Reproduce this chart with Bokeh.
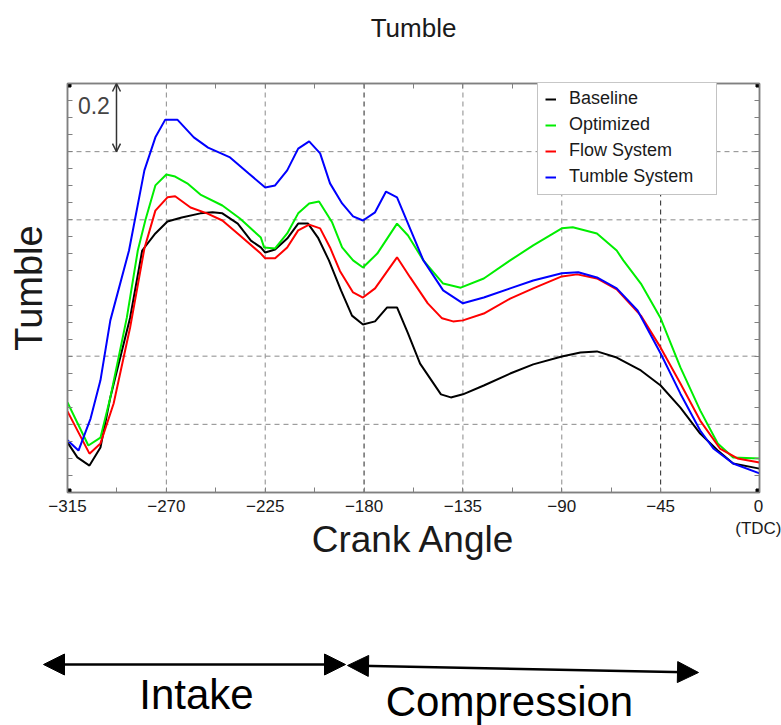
from bokeh.plotting import figure
from bokeh.models import (Range1d, LinearAxis, FixedTicker, Span, Label, Arrow,
                          OpenHead, NormalHead, Legend, LegendItem, CustomJSTickFormatter)
from bokeh.layouts import column
from bokeh.embed import file_html
from bokeh.resources import INLINE

# ---------------- data ----------------
BASELINE_DEG = [-315, -310.5, -305, -300, -295.5, -286.5, -281, -275, -269.5, -263, -254.5, -249,
                -244.5, -237.5, -231.5, -227, -225, -220.5, -215, -210, -205.5, -201, -196, -190.5,
                -185.5, -180.5, -175, -169.5, -165, -160, -154.5, -145, -140.5, -135, -125.5, -113.5,
                -103, -90, -81.5, -74, -65, -54, -45, -36, -27, -19, -12, 0]
BASELINE = [0.147, 0.103, 0.079, 0.132, 0.279, 0.513, 0.710, 0.760, 0.795, 0.807, 0.819, 0.822,
            0.819, 0.789, 0.739, 0.719, 0.704, 0.713, 0.745, 0.789, 0.789, 0.748, 0.681, 0.593,
            0.519, 0.493, 0.502, 0.543, 0.543, 0.467, 0.378, 0.288, 0.279, 0.288, 0.314, 0.349,
            0.376, 0.399, 0.411, 0.414, 0.396, 0.358, 0.314, 0.249, 0.173, 0.123, 0.085, 0.070]

OPT_DEG = [-315, -305.5, -300, -295.5, -288, -283, -279.5, -275, -270, -266, -260.5, -254.5,
           -244.5, -236.5, -227, -225.5, -220.5, -215, -210, -205, -200.5, -194.5, -190, -185,
           -180.5, -174, -165, -160, -153, -144, -136, -125.5, -113.5, -103, -90, -85, -74, -65,
           -62, -54, -45, -36, -27, -19, -12, 0]
OPTIMIZED = [0.264, 0.138, 0.161, 0.279, 0.513, 0.710, 0.800, 0.901, 0.933, 0.927, 0.907, 0.874,
             0.842, 0.804, 0.748, 0.719, 0.716, 0.760, 0.819, 0.848, 0.854, 0.792, 0.719, 0.681,
             0.660, 0.701, 0.789, 0.754, 0.681, 0.613, 0.601, 0.628, 0.681, 0.725, 0.775, 0.778,
             0.760, 0.710, 0.681, 0.613, 0.511, 0.367, 0.241, 0.144, 0.103, 0.100]

FLOW_DEG = [-315, -305, -300, -294, -286.5, -280, -275, -269.5, -266, -259, -251.5, -244.5,
            -236.5, -227, -225, -220.5, -215, -210, -205, -200, -195.5, -191, -185, -180.5,
            -175, -165, -159, -151, -144.5, -139.5, -135, -125.5, -113.5, -103, -90, -83, -74,
            -65, -54, -45, -36, -27, -18, -10, 0]
FLOW = [0.238, 0.114, 0.144, 0.261, 0.484, 0.716, 0.827, 0.866, 0.869, 0.836, 0.819, 0.798,
        0.754, 0.701, 0.687, 0.687, 0.719, 0.769, 0.786, 0.775, 0.719, 0.650, 0.587, 0.572,
        0.599, 0.690, 0.631, 0.555, 0.511, 0.502, 0.505, 0.525, 0.569, 0.599, 0.634, 0.640, 0.628,
        0.596, 0.519, 0.425, 0.320, 0.211, 0.129, 0.100, 0.088]

TUMBLE_DEG = [-315, -310, -304.5, -300, -295.5, -287, -280, -275, -270.5, -265, -257.5, -251,
              -241, -232.5, -225, -220.5, -215, -210, -205, -200, -195.5, -190, -185, -180.5,
              -175, -170, -165, -160, -153, -144, -135, -125.5, -113.5, -103, -90, -82.5, -74,
              -65, -55.5, -45, -36, -27, -21, -12, 0]
TUMBLE = [0.153, 0.123, 0.217, 0.329, 0.505, 0.710, 0.945, 1.042, 1.094, 1.094, 1.042, 1.012,
          0.983, 0.936, 0.895, 0.901, 0.945, 1.009, 1.030, 0.995, 0.907, 0.848, 0.810, 0.798,
          0.822, 0.883, 0.866, 0.789, 0.681, 0.593, 0.555, 0.572, 0.599, 0.622, 0.643, 0.646,
          0.631, 0.599, 0.534, 0.408, 0.290, 0.182, 0.129, 0.085, 0.056]

SERIES_NAMES = ["Baseline", "Optimized", "Flow System", "Tumble System"]
SERIES_COLORS = ["#000000", "#00ee00", "#ff0000", "#0000ff"]

X_MIN, X_MAX = -315, 0
Y_MIN, Y_MAX = 0.0, 1.2
X_TICKS = [-315, -270, -225, -180, -135, -90, -45, 0]
X_MINOR = [-292.5, -247.5, -202.5, -157.5, -112.5, -67.5, -22.5]
Y_TICKS = [0.05, 0.1, 0.15, 0.2, 0.25, 0.3, 0.35, 0.4, 0.45, 0.5, 0.55,
           0.65, 0.7, 0.75, 0.8, 0.85, 0.9, 0.95, 1.0, 1.05, 1.1, 1.15]
Y_GRID = [0.2, 0.4, 0.8, 1.0]
X_GRID_LIGHT = [-270, -225, -135, -90]
X_GRID_DARK = [-180, -45]
SCALE_BAR = 0.2
SCALE_BAR_X = -292.7

TITLE = "Tumble"
PHASES = ["Intake", "Compression"]
PHASE_ARROWS = [(43, 664, 345, 664), (347, 665, 698, 672)]
PHASE_TEXT_POS = [(196, 694), (509, 701)]

TXT = "#1a1a1a"
FONT = "Liberation Sans"
AXC = "#808080"

HDR_H, MAIN_H, FOOT_H = 60, 540, 125

# ---------------- header (title) ----------------
hdr = figure(width=781, height=HDR_H, x_range=Range1d(0, 781), y_range=Range1d(HDR_H, 0),
             output_backend="svg", toolbar_location=None, min_border=0,
             min_border_left=0, min_border_right=0, min_border_top=0, min_border_bottom=0,
             x_axis_location=None, y_axis_location=None)
hdr.frame_align = False
hdr.xgrid.visible = False
hdr.ygrid.visible = False
hdr.outline_line_color = None
hdr.add_layout(Label(x=413, y=27, text=TITLE, text_align="center", text_baseline="middle",
                     text_font=FONT, text_font_size="26px", text_color=TXT))

# ---------------- main figure ----------------
p = figure(width=781, height=MAIN_H, x_range=Range1d(X_MIN, X_MAX), y_range=Range1d(Y_MIN, Y_MAX),
           output_backend="svg", toolbar_location=None,
           min_border_left=67, min_border_right=22, min_border_top=83 - HDR_H,
           min_border_bottom=108)
p.frame_align = False
p.xgrid.visible = False
p.ygrid.visible = False
p.outline_line_color = AXC
p.outline_line_width = 1.5

xt = FixedTicker(ticks=X_TICKS, minor_ticks=X_MINOR)
yt = FixedTicker(ticks=Y_TICKS, minor_ticks=[])
blank = CustomJSTickFormatter(code="return ''")
xfmt = CustomJSTickFormatter(
    code="return tick == 0 ? '0\\n(TDC)' : '\u2212' + Math.abs(tick)")


def style_axis(ax):
    ax.axis_line_color = AXC
    ax.axis_line_width = 1.5
    ax.major_tick_line_color = AXC
    ax.minor_tick_line_color = AXC
    ax.major_tick_in = 5
    ax.major_tick_out = 0
    ax.minor_tick_in = 5
    ax.minor_tick_out = 0


xa = p.xaxis[0]
xa.ticker = xt
xa.formatter = xfmt
style_axis(xa)
xa.major_label_text_font = FONT
xa.major_label_text_font_size = "17px"
xa.major_label_text_color = TXT
xa.major_label_standoff = 4
xa.axis_label = "Crank Angle"
xa.axis_label_text_font = FONT
xa.axis_label_text_font_size = "37px"
xa.axis_label_text_font_style = "normal"
xa.axis_label_text_color = TXT
xa.axis_label_standoff = -22

ya = p.yaxis[0]
ya.ticker = yt
ya.formatter = blank
style_axis(ya)
ya.major_label_text_font_size = "0px"
ya.major_label_standoff = 0
ya.axis_label = "Tumble"
ya.axis_label_text_font = FONT
ya.axis_label_text_font_size = "38px"
ya.axis_label_text_font_style = "normal"
ya.axis_label_text_color = TXT
ya.axis_label_standoff = 18

ra = LinearAxis(ticker=yt, formatter=blank, major_label_text_font_size="0px", major_label_standoff=0)
style_axis(ra)
p.add_layout(ra, "right")
ta = LinearAxis(ticker=xt, formatter=blank, major_label_text_font_size="0px", major_label_standoff=0)
style_axis(ta)
p.add_layout(ta, "above")

for v in Y_GRID:
    p.add_layout(Span(location=v, dimension="width", line_color="#8a8a8a", line_dash="5 4",
                      line_width=1, level="underlay"))
for v in X_GRID_LIGHT:
    p.add_layout(Span(location=v, dimension="height", line_color="#8a8a8a", line_dash="5 4",
                      line_width=1, level="underlay"))
for v in X_GRID_DARK:
    p.add_layout(Span(location=v, dimension="height", line_color="#222222", line_dash="5 4",
                      line_width=1, level="underlay"))

renderers = []
for xs, ys, c in zip([BASELINE_DEG, OPT_DEG, FLOW_DEG, TUMBLE_DEG],
                     [BASELINE, OPTIMIZED, FLOW, TUMBLE], SERIES_COLORS):
    renderers.append(p.line(xs, ys, line_color=c, line_width=2))

legend = Legend(items=[LegendItem(label=n, renderers=[r]) for n, r in zip(SERIES_NAMES, renderers)],
                location=(470, 297), border_line_color="#888888", border_line_width=1,
                background_fill_color="white", background_fill_alpha=1.0,
                label_text_font=FONT, label_text_font_size="18px", label_text_color=TXT,
                glyph_width=11, glyph_height=20, label_height=20, label_width=140,
                spacing=5, padding=7, label_standoff=13, margin=0)
p.add_layout(legend)

# corner markers
p.scatter([X_MIN, X_MAX, X_MIN, X_MAX], [Y_MIN, Y_MIN, Y_MAX, Y_MAX], marker="square",
          size=7, color="black")

# 0.2 scale bar
p.add_layout(Arrow(x_start=SCALE_BAR_X, y_start=Y_MAX, x_end=SCALE_BAR_X, y_end=Y_MAX - SCALE_BAR,
                   start=OpenHead(size=8, line_width=1.5, line_color="#333333"),
                   end=OpenHead(size=8, line_width=1.5, line_color="#333333"),
                   line_width=1.5, line_color="#333333"))
p.add_layout(Label(x=-303, y=Y_MAX - 0.065, text=str(SCALE_BAR), text_align="center",
                   text_baseline="middle", text_font=FONT, text_font_size="23px",
                   text_color="#444444"))

# ---------------- phase arrows ----------------
q = figure(width=781, height=FOOT_H, x_range=Range1d(0, 781), y_range=Range1d(725, 725 - FOOT_H),
           output_backend="svg", toolbar_location=None, min_border=0,
           min_border_left=0, min_border_right=0, min_border_top=0, min_border_bottom=0,
           x_axis_location=None, y_axis_location=None)
q.frame_align = False
q.xgrid.visible = False
q.ygrid.visible = False
q.outline_line_color = None
for (x0, y0, x1, y1), name, (tx, ty) in zip(PHASE_ARROWS, PHASES, PHASE_TEXT_POS):
    q.add_layout(Arrow(x_start=x0, y_start=y0, x_end=x1, y_end=y1,
                       start=NormalHead(size=21, fill_color="black", line_color="black"),
                       end=NormalHead(size=21, fill_color="black", line_color="black"),
                       line_width=2.5, line_color="black"))
    q.add_layout(Label(x=tx, y=ty, text=name, text_align="center", text_baseline="middle",
                       text_font=FONT, text_font_size="42px", text_color="black"))

layout = column(hdr, p, q, spacing=0)
open("out.html", "w").write(file_html(layout, INLINE))
